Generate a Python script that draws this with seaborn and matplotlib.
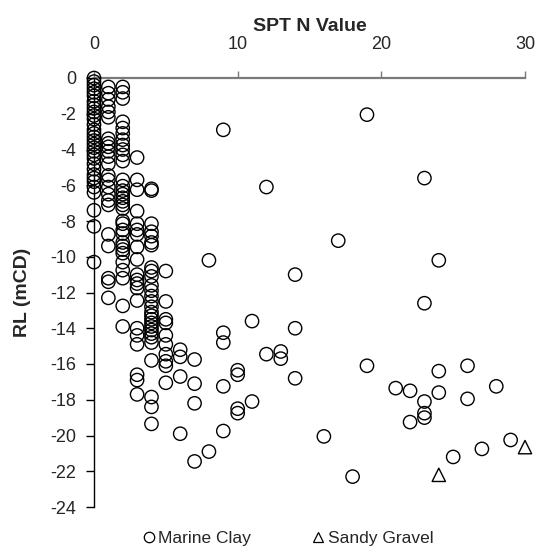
import matplotlib
matplotlib.use("Agg")
import matplotlib.pyplot as plt
from matplotlib.lines import Line2D
import seaborn as sns
import pandas as pd

# SPT N value readings (x) against reduced level in mCD (y)
clay_n = (
    [0] * 32 + [1] * 23 + [2] * 32 + [3] * 20 + [4] * 28 + [5] * 10
    + [6] * 4 + [7] * 4 + [8] * 2 + [9] * 5 + [10] * 4 + [11] * 2
    + [12] * 2 + [13] * 2 + [14] * 3 + [16] + [17] + [18] + [19] * 2
    + [21] + [22] * 2 + [23] * 5 + [24] * 3 + [25] + [26] * 2
    + [27] + [28] + [29]
)
clay_rl = [
    # N = 0
    0, -0.2, -0.4, -0.6, -0.8, -1.0, -1.3, -1.5, -1.7, -1.9, -2.1, -2.3,
    -2.6, -2.9, -3.1, -3.3, -3.5, -3.7, -3.9, -4.1, -4.3, -4.5, -4.8, -5.1,
    -5.4, -5.6, -5.8, -6.1, -6.4, -7.4, -8.3, -10.3,
    # N = 1
    -0.5, -0.85, -1.2, -1.6, -1.9, -2.2, -3.4, -3.65, -3.85, -4.1, -4.4,
    -4.8, -5.45, -5.7, -6.1, -6.5, -6.85, -7.1, -8.75, -9.4, -11.2, -11.4,
    -12.3,
    # N = 2
    -0.5, -0.8, -1.15, -2.45, -2.8, -3.1, -3.45, -3.75, -4.0, -4.3, -4.65,
    -5.7, -6.05, -6.3, -6.5, -6.7, -6.9, -7.1, -7.3, -8.0, -8.15, -8.5,
    -8.7, -9.2, -9.4, -9.6, -9.8, -10.3, -10.75, -11.2, -12.75, -13.9,
    # N = 3
    -4.45, -5.7, -6.25, -7.45, -8.15, -8.5, -8.75, -9.45, -10.15, -11.0,
    -11.3, -11.5, -11.75, -12.45, -14.0, -14.4, -14.9, -16.6, -16.9, -17.7,
    # N = 4
    -6.2, -6.3, -8.15, -8.6, -8.85, -9.2, -9.35, -10.6, -10.8, -11.1,
    -11.6, -11.9, -12.2, -12.5, -12.8, -13.1, -13.3, -13.5, -13.7, -13.9,
    -14.1, -14.3, -14.5, -14.8, -15.8, -17.85, -18.4, -19.35,
    # N = 5
    -10.8, -12.5, -13.5, -13.7, -14.4, -14.9, -15.45, -15.85, -16.1, -17.05,
    # N = 6 .. 14
    -15.2, -15.6, -16.7, -19.9,
    -15.75, -17.1, -18.2, -21.45,
    -10.2, -20.9,
    -2.9, -14.25, -14.8, -17.25, -19.75,
    -16.35, -16.6, -18.5, -18.75,
    -13.6, -18.1,
    -6.1, -15.45,
    -15.3, -15.7,
    -11.0, -14.0, -16.8,
    # N = 16 .. 29
    -20.05,
    -9.1,
    -22.3,
    -2.05, -16.1,
    -17.35,
    -17.5, -19.25,
    -5.6, -12.6, -18.1, -18.75, -19.0,
    -10.2, -16.4, -17.6,
    -21.2,
    -16.1, -17.95,
    -20.75,
    -17.25,
    -20.25,
]
gravel_n = [24, 30]
gravel_rl = [-22.2, -20.65]

x_ticks = [0, 10, 20, 30]
y_ticks = list(range(0, -25, -2))

clay = pd.DataFrame({"N": clay_n, "RL": clay_rl})
gravel = pd.DataFrame({"N": gravel_n, "RL": gravel_rl})

sns.set_style("white")
plt.rcParams["font.family"] = ["Liberation Sans", "DejaVu Sans"]

fig = plt.figure(figsize=(5.37, 5.49), dpi=100)
ax = fig.add_axes([94 / 537, 1 - 507 / 549, 431 / 537, 429 / 549])

common = dict(s=92, facecolor="none", edgecolor="black", linewidth=1.0,
              clip_on=False, zorder=3, legend=False)
sns.scatterplot(data=clay, x="N", y="RL", marker="o", ax=ax, **common)
sns.scatterplot(data=gravel, x="N", y="RL", marker="^", ax=ax, **common)

ax.set_xlim(0, 30)
ax.set_ylim(-24, 0)
ax.set_xticks(x_ticks)
ax.set_yticks(y_ticks)
ax.set_yticklabels([str(v) for v in y_ticks])

ax.xaxis.tick_top()
ax.xaxis.set_label_position("top")
ax.set_xlabel("SPT N Value", fontsize=14, fontweight="bold")
ax.set_ylabel("RL (mCD)", fontsize=14, fontweight="bold")
ax.xaxis.set_label_coords(0.5, 1 + (78 - 31) / 429)
ax.yaxis.set_label_coords(-(94 - 31) / 431, 0.5)

for side in ("right", "bottom"):
    ax.spines[side].set_visible(False)
ax.spines["top"].set_color("#7a7a7a")
ax.spines["top"].set_linewidth(1.6)
ax.spines["left"].set_color("black")
ax.spines["left"].set_linewidth(1.0)

ax.tick_params(axis="x", direction="out", length=5, width=1.0,
               color="#7a7a7a", labelsize=13, pad=13, top=True, bottom=False)
ax.tick_params(axis="y", direction="out", length=6, width=1.0,
               color="black", labelsize=13, pad=7, left=True)

handles = [
    Line2D([], [], marker="o", linestyle="none", markerfacecolor="none",
           markeredgecolor="black", markersize=7.5, markeredgewidth=0.9),
    Line2D([], [], marker="^", linestyle="none", markerfacecolor="none",
           markeredgecolor="black", markersize=7.5, markeredgewidth=0.9),
]
fig.legend(handles, ["Marine Clay", "Sandy Gravel"], loc="center",
           bbox_to_anchor=(287 / 537, 1 - 538 / 549), ncol=2, frameon=False,
           fontsize=12.5, handletextpad=0.1, columnspacing=3.4,
           handlelength=0.9)

fig.savefig("out.png", dpi=100)
